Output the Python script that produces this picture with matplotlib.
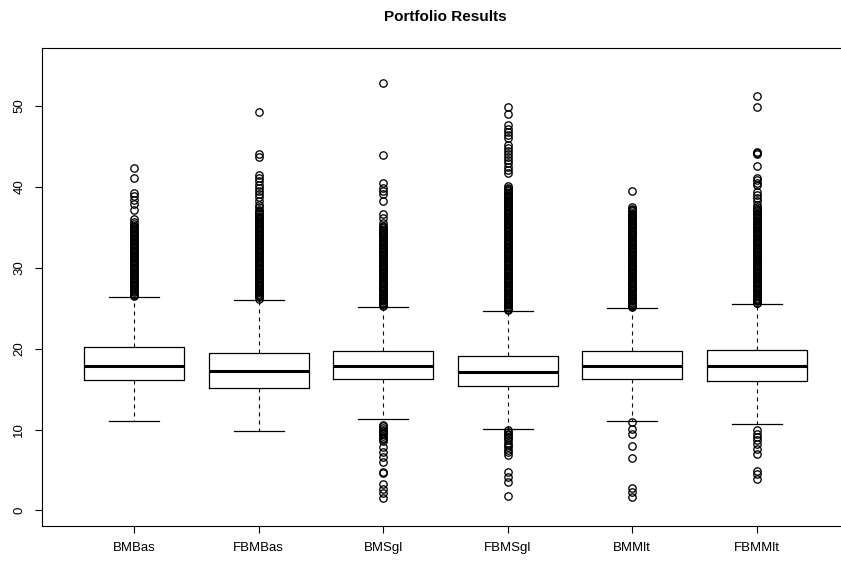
import matplotlib
matplotlib.use("Agg")
import matplotlib.pyplot as plt

plt.rcParams['font.family'] = ['Liberation Sans', 'DejaVu Sans']

# portfolio names
names = ["BMBas", "FBMBas", "BMSgl", "FBMSgl", "BMMlt", "FBMMlt"]

# five-number summaries per portfolio
whisker_lo = [11.1, 9.8, 11.3, 10.1, 11.1, 10.7]
quart_lo = [16.1, 15.2, 16.2, 15.4, 16.3, 16.0]
medians = [17.9, 17.2, 17.8, 17.1, 17.8, 17.8]
quart_hi = [20.2, 19.5, 19.7, 19.1, 19.7, 19.9]
whisker_hi = [26.4, 26.0, 25.1, 24.6, 25.0, 25.5]

# isolated outlying results
far_bmbas = [42.4, 41.1, 39.3, 38.9, 38.4, 37.9, 37.2, 36.0, 35.7]
far_fbmbas = [49.3, 44.1, 43.7, 41.5, 41.1, 40.7, 40.3, 39.9, 39.5, 39.1,
              38.7, 38.2, 37.8, 37.5]
far_bmsgl = [52.9, 44.0, 40.5, 39.9, 39.5, 39.1, 38.2, 36.6, 36.2, 35.5,
             10.6, 10.4, 10.2, 10.0, 9.8, 9.6, 9.4, 9.2, 9.0, 8.8, 8.6,
             7.8, 7.2, 6.6, 6.0, 4.8, 4.6, 3.3, 2.7, 2.1, 1.5]
far_fbmsgl = [49.9, 49.0, 47.6, 47.2, 46.8, 46.4, 46.0, 45.2, 44.8, 44.5,
              44.1, 43.7, 43.3, 42.9, 42.5, 42.1, 41.7,
              9.9, 9.7, 9.5, 9.3, 9.1, 8.9, 8.7, 8.4, 8.1, 7.8, 7.5, 7.2,
              6.9, 4.7, 4.1, 3.5, 1.8]
far_bmmlt = [39.5, 37.5, 10.9, 10.1, 9.4, 8.0, 6.5, 2.8, 2.3, 1.65]
far_fbmmlt = [51.2, 49.9, 44.3, 44.2, 44.1, 42.6, 41.1, 40.8, 40.5, 40.2,
              39.4, 39.0, 38.6, 38.2, 37.8, 37.5,
              9.9, 9.5, 9.1, 8.7, 8.2, 7.6, 7.0, 4.9, 4.5, 3.9]

# tightly packed outliers just above the upper whisker
near_bmbas = [35.4, 35.2, 35.1, 34.9, 34.8, 34.6, 34.5, 34.3, 34.2, 34.0,
              33.9, 33.7, 33.6, 33.4, 33.3, 33.1, 33.0, 32.8, 32.7, 32.5,
              32.4, 32.2, 32.1, 31.9, 31.8, 31.6, 31.5, 31.3, 31.2, 31.0,
              30.9, 30.7, 30.6, 30.4, 30.3, 30.1, 30.0, 29.8, 29.7, 29.5,
              29.4, 29.2, 29.1, 28.9, 28.8, 28.6, 28.5, 28.3, 28.2, 28.0,
              27.9, 27.7, 27.6, 27.4, 27.3, 27.1, 27.0, 26.8, 26.7, 26.5]
near_fbmbas = [37.2, 37.0, 36.9, 36.7, 36.6, 36.4, 36.3, 36.1, 36.0, 35.8,
               35.7, 35.5, 35.4, 35.2, 35.1, 34.9, 34.8, 34.6, 34.5, 34.3,
               34.2, 34.0, 33.9, 33.7, 33.6, 33.4, 33.3, 33.1, 33.0, 32.8,
               32.7, 32.5, 32.4, 32.2, 32.1, 31.9, 31.8, 31.6, 31.5, 31.3,
               31.2, 31.0, 30.9, 30.7, 30.6, 30.4, 30.3, 30.1, 30.0, 29.8,
               29.7, 29.5, 29.4, 29.2, 29.1, 28.9, 28.8, 28.6, 28.5, 28.3,
               28.2, 28.0, 27.9, 27.7, 27.6, 27.4, 27.3, 27.1, 27.0, 26.8,
               26.7, 26.5, 26.4, 26.2]
near_bmsgl = [35.2, 35.0, 34.9, 34.7, 34.6, 34.4, 34.3, 34.1, 34.0, 33.8,
              33.7, 33.5, 33.4, 33.2, 33.1, 32.9, 32.8, 32.6, 32.5, 32.3,
              32.2, 32.0, 31.9, 31.7, 31.6, 31.4, 31.3, 31.1, 31.0, 30.8,
              30.7, 30.5, 30.4, 30.2, 30.1, 29.9, 29.8, 29.6, 29.5, 29.3,
              29.2, 29.0, 28.9, 28.7, 28.6, 28.4, 28.3, 28.1, 28.0, 27.8,
              27.7, 27.5, 27.4, 27.2, 27.1, 26.9, 26.8, 26.6, 26.5, 26.3,
              26.2, 26.0, 25.9, 25.7, 25.6, 25.4, 25.3]
near_fbmsgl = [40.1, 39.9, 39.8, 39.6, 39.5, 39.3, 39.2, 39.0, 38.9, 38.7,
               38.6, 38.4, 38.3, 38.1, 38.0, 37.8, 37.7, 37.5, 37.4, 37.2,
               37.1, 36.9, 36.8, 36.6, 36.5, 36.3, 36.2, 36.0, 35.9, 35.7,
               35.6, 35.4, 35.3, 35.1, 35.0, 34.8, 34.7, 34.5, 34.4, 34.2,
               34.1, 33.9, 33.8, 33.6, 33.5, 33.3, 33.2, 33.0, 32.9, 32.7,
               32.6, 32.4, 32.3, 32.1, 32.0, 31.8, 31.7, 31.5, 31.4, 31.2,
               31.1, 30.9, 30.8, 30.6, 30.5, 30.3, 30.2, 30.0, 29.9, 29.7,
               29.6, 29.4, 29.3, 29.1, 29.0, 28.8, 28.7, 28.5, 28.4, 28.2,
               28.1, 27.9, 27.8, 27.6, 27.5, 27.3, 27.2, 27.0, 26.9, 26.7,
               26.6, 26.4, 26.3, 26.1, 26.0, 25.8, 25.7, 25.5, 25.4, 25.2,
               25.1, 24.9, 24.8]
near_bmmlt = [37.3, 37.1, 37.0, 36.8, 36.7, 36.5, 36.4, 36.2, 36.1, 35.9,
              35.8, 35.6, 35.5, 35.3, 35.2, 35.0, 34.9, 34.7, 34.6, 34.4,
              34.3, 34.1, 34.0, 33.8, 33.7, 33.5, 33.4, 33.2, 33.1, 32.9,
              32.8, 32.6, 32.5, 32.3, 32.2, 32.0, 31.9, 31.7, 31.6, 31.4,
              31.3, 31.1, 31.0, 30.8, 30.7, 30.5, 30.4, 30.2, 30.1, 29.9,
              29.8, 29.6, 29.5, 29.3, 29.2, 29.0, 28.9, 28.7, 28.6, 28.4,
              28.3, 28.1, 28.0, 27.8, 27.7, 27.5, 27.4, 27.2, 27.1, 26.9,
              26.8, 26.6, 26.5, 26.3, 26.2, 26.0, 25.9, 25.7, 25.6, 25.4,
              25.3, 25.1]
near_fbmmlt = [37.3, 37.1, 37.0, 36.8, 36.7, 36.5, 36.4, 36.2, 36.1, 35.9,
               35.8, 35.6, 35.5, 35.3, 35.2, 35.0, 34.9, 34.7, 34.6, 34.4,
               34.3, 34.1, 34.0, 33.8, 33.7, 33.5, 33.4, 33.2, 33.1, 32.9,
               32.8, 32.6, 32.5, 32.3, 32.2, 32.0, 31.9, 31.7, 31.6, 31.4,
               31.3, 31.1, 31.0, 30.8, 30.7, 30.5, 30.4, 30.2, 30.1, 29.9,
               29.8, 29.6, 29.5, 29.3, 29.2, 29.0, 28.9, 28.7, 28.6, 28.4,
               28.3, 28.1, 28.0, 27.8, 27.7, 27.5, 27.4, 27.2, 27.1, 26.9,
               26.8, 26.6, 26.5, 26.3, 26.2, 26.0, 25.9, 25.7, 25.6]

far = [far_bmbas, far_fbmbas, far_bmsgl, far_fbmsgl, far_bmmlt, far_fbmmlt]
near = [near_bmbas, near_fbmbas, near_bmsgl, near_fbmsgl, near_bmmlt, near_fbmmlt]

stats = []
for i in range(len(names)):
    stats.append(dict(label=names[i], whislo=whisker_lo[i], q1=quart_lo[i],
                      med=medians[i], q3=quart_hi[i], whishi=whisker_hi[i],
                      fliers=far[i] + near[i]))

fig = plt.figure(figsize=(8.41, 5.61), dpi=100)
# plot region runs a little past the right edge of the figure
ax = fig.add_axes([42 / 841, 35.5 / 561, 807 / 841, 478 / 561])

ax.bxp(stats, positions=range(1, 7), widths=0.8, capwidths=0.4,
       boxprops=dict(color='black', linewidth=0.9),
       medianprops=dict(color='black', linewidth=2.2, solid_capstyle='butt'),
       whiskerprops=dict(color='black', linewidth=0.8, linestyle=(0, (3.6, 3.6))),
       capprops=dict(color='black', linewidth=0.9),
       flierprops=dict(marker='o', markerfacecolor='none', markeredgecolor='black',
                       markersize=5.3, markeredgewidth=0.95))

ax.set_xlim(0.26, 6.74)
ax.set_ylim(-1.86, 57.24)
ax.set_yticks([0, 10, 20, 30, 40, 50])
for s in ax.spines.values():
    s.set_linewidth(0.8)
ax.tick_params(direction='out', length=5, width=0.8, labelsize=9.5, pad=7)
for lab in ax.get_yticklabels():
    lab.set_rotation(90)
    lab.set_va('center')

ax.set_title('Portfolio Results', fontweight='bold', fontsize=11, pad=19)

fig.savefig('out.png', dpi=100)
